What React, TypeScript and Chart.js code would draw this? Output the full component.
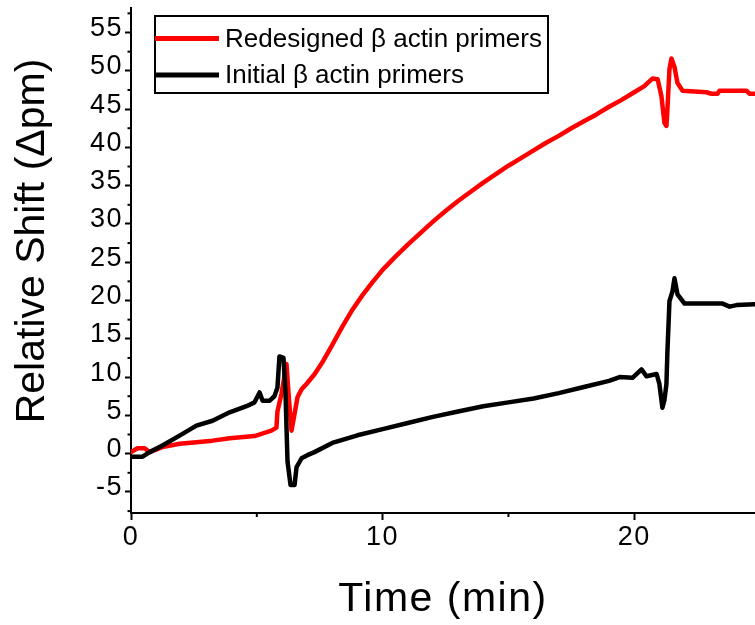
import { useEffect, useRef } from 'react';
import { Chart, registerables } from 'chart.js';

Chart.register(...registerables);

const seriesLabels = ['Redesigned β actin primers', 'Initial β actin primers'];
const seriesColors = ['#ff0000', '#000000'];

const redTimes = [0, 0.26, 0.54, 0.74, 1.25, 1.93, 2.6, 3.24, 3.92, 4.91, 5.58, 5.78, 5.82, 5.98, 6.18, 6.28, 6.38, 6.5, 6.62, 6.78, 7.0, 7.3, 7.6, 8.0, 8.4, 8.8, 9.2, 9.6, 10.0, 10.5, 11.0, 11.5, 12.0, 12.5, 13.0, 13.5, 14.0, 14.5, 15.0, 15.5, 16.0, 16.5, 17.0, 17.5, 18.0, 18.5, 19.0, 19.5, 20.0, 20.4, 20.73, 20.93, 21.08, 21.2, 21.28, 21.32, 21.4, 21.48, 21.6, 21.72, 21.92, 22.87, 23.07, 23.31, 23.39, 24.46, 24.58, 24.8];
const redValues = [0.2, 0.7, 0.7, 0.2, 0.85, 1.3, 1.5, 1.7, 2.0, 2.3, 3.0, 3.4, 5.5, 7.8, 11.7, 7.0, 3.0, 5.2, 7.4, 8.4, 9.2, 10.4, 11.9, 14.2, 16.6, 18.8, 20.7, 22.4, 24.0, 25.7, 27.3, 28.8, 30.3, 31.7, 33.0, 34.2, 35.4, 36.5, 37.6, 38.6, 39.6, 40.6, 41.5, 42.5, 43.4, 44.3, 45.3, 46.2, 47.2, 48.0, 49.0, 48.9, 46.7, 43.2, 42.8, 45.0, 50.2, 51.6, 50.5, 48.4, 47.4, 47.2, 47.0, 47.0, 47.4, 47.4, 47.0, 47.0];

const blackTimes = [0, 0.46, 0.74, 1.25, 1.93, 2.6, 3.24, 3.92, 4.59, 4.91, 5.11, 5.23, 5.5, 5.7, 5.82, 5.9, 6.06, 6.14, 6.22, 6.34, 6.5, 6.58, 6.78, 7.01, 7.29, 8.0, 9.0, 10.0, 11.0, 12.0, 13.0, 14.0, 15.0, 16.0, 17.0, 18.0, 19.0, 19.42, 19.93, 20.29, 20.49, 20.89, 21.0, 21.12, 21.2, 21.28, 21.32, 21.4, 21.52, 21.6, 21.72, 22.0, 23.51, 23.79, 24.07, 24.8];
const blackValues = [-0.4, -0.4, 0.2, 1.06, 2.36, 3.66, 4.3, 5.4, 6.2, 6.7, 8.0, 6.9, 6.9, 7.5, 8.6, 12.7, 12.5, 8.0, -1.0, -4.1, -4.1, -1.75, -0.6, -0.2, 0.2, 1.4, 2.4, 3.2, 4.0, 4.8, 5.5, 6.2, 6.7, 7.2, 7.9, 8.7, 9.5, 10.0, 9.9, 11.0, 10.1, 10.4, 9.1, 6.0, 7.0, 9.1, 13.4, 19.9, 21.2, 22.9, 20.8, 19.6, 19.6, 19.2, 19.4, 19.5];

const xMajorTicks = [0, 10, 20];
const xMinorTicks = [5, 15];
const yMajorTicks = [-5, 0, 5, 10, 15, 20, 25, 30, 35, 40, 45, 50, 55];
const yMinorTicks = [-7.5, -2.5, 2.5, 7.5, 12.5, 17.5, 22.5, 27.5, 32.5, 37.5, 42.5, 47.5, 52.5, 57.5];

const xTitle = 'Time (min)';
const yTitle = 'Relative Shift (Δpm)';

const FONT = "'Liberation Sans', Arial, sans-serif";

const spacingPlugin = {
  id: 'axisSpacing',
  beforeDraw(chart: any) {
    (chart.ctx as any).letterSpacing = '1.5px';
  },
  beforeDatasetsDraw(chart: any) {
    (chart.ctx as any).letterSpacing = '0px';
  },
};

const minorTickPlugin = {
  id: 'minorTicks',
  afterDraw(chart: any) {
    const { ctx, chartArea } = chart;
    const xs = chart.scales.x;
    const ys = chart.scales.y;
    ctx.save();
    ctx.strokeStyle = '#000';
    ctx.lineWidth = 2;
    xMinorTicks.forEach((v) => {
      const px = xs.getPixelForValue(v);
      ctx.beginPath();
      ctx.moveTo(px, chartArea.bottom);
      ctx.lineTo(px, chartArea.bottom + 4);
      ctx.stroke();
    });
    yMinorTicks.forEach((v) => {
      const py = ys.getPixelForValue(v);
      if (py < chartArea.top || py > chartArea.bottom) return;
      ctx.beginPath();
      ctx.moveTo(chartArea.left, py);
      ctx.lineTo(chartArea.left - 3.5, py);
      ctx.stroke();
    });
    ctx.restore();
  },
};

const yTitlePlugin = {
  id: 'yTitle',
  afterDraw(chart: any, _args: any, opts: any) {
    const { ctx } = chart;
    ctx.save();
    (ctx as any).letterSpacing = '0px';
    ctx.translate(opts.x, opts.y);
    ctx.rotate(-Math.PI / 2);
    ctx.font = `${opts.size}px ${FONT}`;
    ctx.fillStyle = '#000';
    ctx.textAlign = 'center';
    ctx.textBaseline = 'middle';
    ctx.fillText(opts.text, 0, 0);
    ctx.restore();
  },
};

const boxLegendPlugin = {
  id: 'boxLegend',
  afterDraw(chart: any, _args: any, opts: any) {
    const { ctx } = chart;
    ctx.save();
    (ctx as any).letterSpacing = '0px';
    ctx.fillStyle = '#fff';
    ctx.fillRect(opts.left, opts.top, opts.width, opts.height);
    ctx.strokeStyle = '#000';
    ctx.lineWidth = 2;
    ctx.strokeRect(opts.left, opts.top, opts.width, opts.height);
    chart.data.datasets.forEach((ds: any, i: number) => {
      const y = opts.top + opts.rows[i];
      ctx.beginPath();
      ctx.moveTo(opts.left, y);
      ctx.lineTo(opts.left + opts.lineLen, y);
      ctx.strokeStyle = ds.borderColor;
      ctx.lineWidth = 5;
      ctx.stroke();
      ctx.fillStyle = '#000';
      ctx.font = `${opts.size}px ${FONT}`;
      ctx.textAlign = 'left';
      ctx.textBaseline = 'middle';
      ctx.fillText(ds.label, opts.left + opts.lineLen + 6, y + 1);
    });
    ctx.restore();
  },
};

export default function App() {
  const canvasRef = useRef<HTMLCanvasElement | null>(null);

  useEffect(() => {
    if (!canvasRef.current) return;
    const redData = redTimes.map((t, i) => ({ x: t, y: redValues[i] }));
    const blackData = blackTimes.map((t, i) => ({ x: t, y: blackValues[i] }));

    const chart = new Chart(canvasRef.current, {
      type: 'line',
      data: {
        datasets: [
          {
            label: seriesLabels[0],
            data: redData,
            borderColor: seriesColors[0],
            backgroundColor: seriesColors[0],
            borderWidth: 4.5,
            pointRadius: 0,
            tension: 0,
            borderJoinStyle: 'round',
            borderCapStyle: 'round',
            order: 1,
          },
          {
            label: seriesLabels[1],
            data: blackData,
            borderColor: seriesColors[1],
            backgroundColor: seriesColors[1],
            borderWidth: 4.5,
            pointRadius: 0,
            tension: 0,
            borderJoinStyle: 'round',
            borderCapStyle: 'round',
            order: 0,
          },
        ],
      },
      options: {
        animation: false,
        responsive: true,
        maintainAspectRatio: false,
        layout: { padding: { top: 8, right: 0, bottom: 0, left: 0 } },
        plugins: {
          legend: { display: false },
          tooltip: { enabled: false },
          yTitle: { text: yTitle, x: 32.5, y: 241, size: 41 },
          boxLegend: { left: 155, top: 16, width: 393, height: 77, rows: [22.5, 59], lineLen: 64, size: 26 },
        } as any,
        scales: {
          x: {
            type: 'linear',
            min: 0,
            max: 24.8,
            afterBuildTicks: (s: any) => {
              s.ticks = xMajorTicks.map((v) => ({ value: v }));
            },
            afterFit: (s: any) => {
              s.height = 112;
              s.paddingLeft = 0;
              s.paddingRight = 0;
              s.paddingTop = 0;
              s.paddingBottom = 0;
            },
            ticks: {
              font: { family: FONT, size: 27 },
              color: '#000',
              padding: 1,
              maxRotation: 0,
              autoSkip: false,
              callback: (v: any) => String(v),
            },
            grid: { drawOnChartArea: false, tickLength: 7, tickColor: '#000', tickWidth: 2 },
            border: { color: '#000', width: 2 },
            title: {
              display: true,
              text: xTitle,
              font: { family: FONT, size: 41 },
              color: '#000',
              padding: { top: 0, bottom: 1 },
            },
          },
          y: {
            type: 'linear',
            min: -7.75,
            max: 58.2,
            afterBuildTicks: (s: any) => {
              s.ticks = yMajorTicks.map((v) => ({ value: v }));
            },
            afterFit: (s: any) => {
              s.width = 131;
              s.paddingLeft = 0;
              s.paddingRight = 0;
              s.paddingTop = 0;
              s.paddingBottom = 0;
            },
            ticks: {
              font: { family: FONT, size: 27 },
              color: '#000',
              padding: 2,
              labelOffset: -4,
              autoSkip: false,
              callback: (v: any) => String(v),
            },
            grid: { drawOnChartArea: false, tickLength: 6, tickColor: '#000', tickWidth: 2 },
            border: { color: '#000', width: 2 },
          },
        },
      },
      plugins: [spacingPlugin, minorTickPlugin, yTitlePlugin, boxLegendPlugin],
    });
    return () => chart.destroy();
  }, []);

  return (
    <div style={{ position: 'fixed', left: 0, top: 0, width: 755, height: 625, background: '#fff' }}>
      <canvas ref={canvasRef} />
    </div>
  );
}
